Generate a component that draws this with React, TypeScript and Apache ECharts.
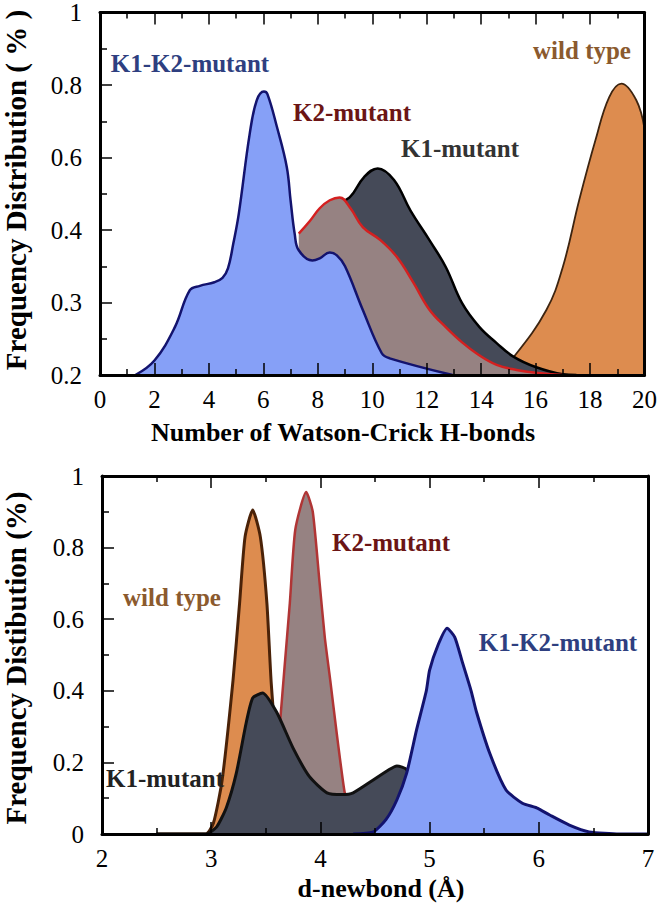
import React, { useEffect, useRef } from 'react';
import * as echarts from 'echarts';

// ---------- Top panel: Number of Watson-Crick H-bonds ----------
const topYTicks = [0.2, 0.3, 0.4, 0.6, 0.8, 1];
const topYTickLabels = ['0.2', '0.3', '0.4', '0.6', '0.8', '1'];

const hbondK1K2 = [
  [1.3, 0.2], [2.0, 0.22], [2.75, 0.266], [3.3, 0.317], [3.67, 0.323], [4.2, 0.328],
  [4.5, 0.334], [4.7, 0.347], [4.9, 0.382], [5.1, 0.446], [5.5, 0.666], [5.76, 0.758],
  [6.02, 0.782], [6.15, 0.775], [6.5, 0.684], [6.86, 0.574], [7.0, 0.482], [7.15, 0.395],
  [7.3, 0.372], [7.8, 0.358], [8.07, 0.361], [8.44, 0.369], [8.7, 0.365], [9.0, 0.35],
  [9.65, 0.29], [10.35, 0.23], [10.64, 0.223], [12.95, 0.2],
];
const hbondK2 = [
  [7.3, 0.395], [7.7, 0.424], [8.07, 0.46], [8.44, 0.482], [8.8, 0.49], [9.2, 0.46],
  [9.65, 0.408], [10.3, 0.386], [10.9, 0.363], [11.5, 0.328], [12.1, 0.29], [12.7, 0.266],
  [13.3, 0.245], [13.9, 0.228], [14.57, 0.214], [15.3, 0.207], [16.0, 0.203], [17.0, 0.2],
];
const hbondK1 = [
  [7.3, 0.37], [8.0, 0.43], [8.6, 0.47], [9.17, 0.49], [9.7, 0.546], [10.2, 0.57],
  [10.8, 0.538], [11.4, 0.454], [12.1, 0.386], [12.7, 0.349], [13.3, 0.299], [13.94, 0.266],
  [14.57, 0.244], [15.2, 0.225], [16.0, 0.211], [17.0, 0.201], [17.5, 0.2],
];
const hbondWild = [
  [14.5, 0.2], [15.2, 0.225], [16.4, 0.29], [17.0, 0.349], [17.6, 0.482], [18.2, 0.648],
  [18.7, 0.766], [19.15, 0.804], [19.7, 0.758], [20, 0.68],
];

// ---------- Bottom panel: d-newbond ----------
const dWild = [
  [2.5, 0], [2.95, 0], [3.02, 0.03], [3.1, 0.15], [3.2, 0.43], [3.26, 0.645], [3.31, 0.83],
  [3.38, 0.905], [3.45, 0.83], [3.51, 0.645], [3.55, 0.42], [3.6, 0.25], [3.7, 0.08],
  [3.8, 0.02], [3.9, 0],
];
const dK2 = [
  [3.5, 0], [3.58, 0.15], [3.63, 0.31], [3.67, 0.46], [3.72, 0.645], [3.77, 0.85],
  [3.87, 0.955], [3.93, 0.9], [3.99, 0.71], [4.04, 0.55], [4.09, 0.43], [4.15, 0.28],
  [4.22, 0.12], [4.28, 0.04], [4.35, 0],
];
const dK1 = [
  [2.5, 0], [2.95, 0], [3.05, 0.02], [3.14, 0.075], [3.23, 0.17], [3.32, 0.31], [3.38, 0.38],
  [3.47, 0.394], [3.6, 0.34], [3.75, 0.24], [3.9, 0.16], [4.06, 0.115], [4.2, 0.11],
  [4.3, 0.115], [4.48, 0.15], [4.63, 0.18], [4.7, 0.19], [4.79, 0.18], [4.9, 0.1],
  [5.0, 0.03], [5.1, 0],
];
const dK1K2 = [
  [4.3, 0], [4.48, 0.005], [4.6, 0.04], [4.7, 0.095], [4.79, 0.17], [4.88, 0.29],
  [4.97, 0.4], [5.0, 0.458], [5.08, 0.53], [5.16, 0.575], [5.23, 0.55], [5.3, 0.48],
  [5.38, 0.4], [5.43, 0.34], [5.55, 0.226], [5.7, 0.123], [5.85, 0.086], [5.98, 0.073],
  [6.1, 0.053], [6.28, 0.025], [6.46, 0.006], [6.74, 0], [7, 0],
];

const FONT = 'Liberation Serif';

// top panel's y axis has evenly spaced (non-linear) tick labels
function toTopPos(v: number): number {
  for (let i = 0; i < topYTicks.length - 1; i++) {
    const a = topYTicks[i];
    const b = topYTicks[i + 1];
    if (v <= b || i === topYTicks.length - 2) return i + (v - a) / (b - a);
  }
  return 0;
}
const mapTop = (arr: number[][]) => arr.map(([x, y]) => [x, toTopPos(y)]);

function area(data: number[][], xi: number, yi: number, fill: string, stroke: string, width: number, smooth: number, z: number) {
  return {
    type: 'line',
    data,
    xAxisIndex: xi,
    yAxisIndex: yi,
    z,
    symbol: 'none',
    showSymbol: false,
    smooth,
    clip: true,
    lineStyle: { color: stroke, width },
    itemStyle: { color: fill },
    areaStyle: { color: fill, opacity: 1, origin: 'start' },
  };
}

const axisLineStyle = { color: '#000', width: 3 };
const tickStyle = { color: '#000', width: 1.5 };

function xAxes(grid: number, min: number, max: number, interval: number) {
  return [
    {
      type: 'value', gridIndex: grid, position: 'bottom', min, max, interval, z: 20,
      axisLine: { show: true, onZero: false, lineStyle: axisLineStyle },
      axisTick: { show: true, inside: true, length: 12, lineStyle: tickStyle },
      minorTick: { show: true, splitNumber: 2, length: 6, lineStyle: tickStyle },
      axisLabel: { color: '#000', fontFamily: FONT, fontSize: 25, margin: 12 },
      splitLine: { show: false },
    },
    {
      type: 'value', gridIndex: grid, position: 'top', min, max, interval, z: 20,
      axisLine: { show: true, onZero: false, lineStyle: axisLineStyle },
      axisTick: { show: true, inside: true, length: 12, lineStyle: tickStyle },
      minorTick: { show: true, splitNumber: 2, length: 6, lineStyle: tickStyle },
      axisLabel: { show: false },
      splitLine: { show: false },
    },
  ];
}

function yAxes(grid: number, min: number, max: number, interval: number, formatter?: (v: number) => string) {
  return [
    {
      type: 'value', gridIndex: grid, position: 'left', min, max, interval, z: 20,
      axisLine: { show: true, onZero: false, lineStyle: axisLineStyle },
      axisTick: { show: true, inside: true, length: 12, lineStyle: tickStyle },
      minorTick: { show: true, splitNumber: 2, length: 7, lineStyle: tickStyle },
      axisLabel: { color: '#000', fontFamily: FONT, fontSize: 25, margin: 18, formatter },
      splitLine: { show: false },
    },
    {
      type: 'value', gridIndex: grid, position: 'right', min, max, interval, z: 20,
      axisLine: { show: true, onZero: false, lineStyle: axisLineStyle },
      axisTick: { show: false },
      axisLabel: { show: false },
      splitLine: { show: false },
    },
  ];
}

function label(text: string, x: number, y: number, color: string, size = 25, rotation = 0) {
  return {
    type: 'text',
    x, y, rotation, z: 100,
    style: {
      text, fill: color, fontFamily: FONT, fontSize: size, fontWeight: 'bold',
      align: 'center', verticalAlign: 'middle',
      textAlign: 'center', textVerticalAlign: 'middle',
    },
  };
}

const BLUE_FILL = '#86a0f7';
const BLUE_LINE = '#13136e';
const K2_FILL = '#968282';
const K1_FILL = '#454a58';
const WILD_FILL = '#dd8c4f';

const option = {
  animation: false,
  backgroundColor: '#fff',
  grid: [
    { left: 100, top: 12, width: 545, height: 363 },
    { left: 102, top: 476, width: 546, height: 358 },
  ],
  xAxis: [...xAxes(0, 0, 20, 2), ...xAxes(1, 2, 7, 1)],
  yAxis: [
    ...yAxes(0, 0, 5, 1, (v: number) => topYTickLabels[Math.round(v)] ?? ''),
    ...yAxes(1, 0, 1, 0.2),
  ],
  series: [
    area(mapTop(hbondWild), 0, 0, WILD_FILL, '#3d2410', 1.8, 0.4, 2),
    area(mapTop(hbondK1), 0, 0, K1_FILL, '#000000', 2.5, 0.4, 3),
    area(mapTop(hbondK2), 0, 0, K2_FILL, '#d42020', 2.5, 0.4, 4),
    area(mapTop(hbondK1K2), 0, 0, BLUE_FILL, BLUE_LINE, 2.5, 0.4, 5),
    area(dWild, 2, 2, WILD_FILL, '#4a2208', 3, 0.2, 2),
    area(dK2, 2, 2, K2_FILL, '#b03535', 2.5, 0.2, 3),
    area(dK1, 2, 2, K1_FILL, '#111111', 3, 0.2, 4),
    area(dK1K2, 2, 2, BLUE_FILL, BLUE_LINE, 3, 0.2, 5),
  ],
  graphic: [
    label('K1-K2-mutant', 190, 63, '#2e3f80'),
    label('K2-mutant', 352, 112, '#6b1515'),
    label('K1-mutant', 460, 148, '#333333'),
    label('wild type', 582, 50, '#8b5a2e'),
    label('wild type', 172, 597, '#8b5a2e'),
    label('K2-mutant', 391, 542, '#6b1515'),
    label('K1-K2-mutant', 558, 642, '#2e3f80'),
    label('K1-mutant', 165, 778, '#222222'),
    label('Number of Watson-Crick H-bonds', 343, 432, '#000', 26),
    label('d-newbond (Å)', 381, 888, '#000', 26),
    label('Frequency Distribution ( % )', 16, 190, '#000', 29, Math.PI / 2),
    label('Frequency Distibution (%)', 16, 658, '#000', 29, Math.PI / 2),
  ],
};

export default function App() {
  const ref = useRef<HTMLDivElement>(null);
  useEffect(() => {
    document.body.style.margin = '0';
    const chart = echarts.init(ref.current as HTMLDivElement, null, { renderer: 'svg' });
    chart.setOption(option as any);
    return () => chart.dispose();
  }, []);
  return <div ref={ref} style={{ width: 660, height: 912 }} />;
}
